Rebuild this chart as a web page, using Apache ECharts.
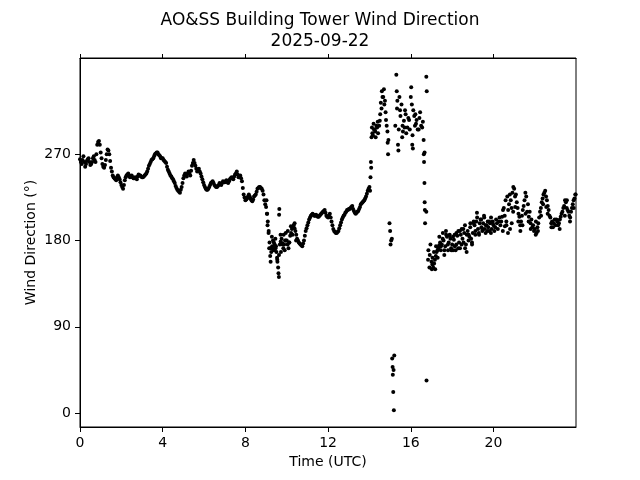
<!DOCTYPE html>
<html>
<head>
<meta charset="utf-8">
<script src="https://cdn.jsdelivr.net/npm/echarts@6/dist/echarts.min.js"></script>
<style>html,body{margin:0;padding:0;background:#fff}#c{width:640px;height:480px}</style>
</head>
<body>
<div id="c"></div>
<script>
// Wind direction (deg) sampled every 5 minutes (on the 5-minute marks), one row per hour (UTC)
const windMain = [
  265, 260, 268, 257, 263, 266, 259, 262, 268, 262, 280, 284, // 00
  272, 260, 256, 264, 275, 270, 256, 248, 245, 243, 248, 244, // 01
  238, 234, 243, 248, 250, 246, 248, 245, 246, 244, 249, 248, // 02
  246, 247, 249, 252, 258, 262, 265, 268, 271, 272, 269, 266, // 03
  266, 263, 261, 254, 250, 247, 244, 240, 235, 232, 230, 236, // 04
  245, 250, 247, 252, 248, 258, 264, 258, 252, 255, 250, 244, // 05
  238, 234, 233, 236, 240, 242, 238, 236, 237, 240, 238, 242, // 06
  241, 243, 240, 244, 246, 244, 249, 252, 246, 248, 242, 228, // 07
  222, 224, 228, 224, 221, 226, 228, 234, 236, 235, 232, 222, // 08
  215, 200, 178, 168, 180, 176, 168, 152, 176, 182, 172, 180, // 09
  180, 172, 185, 192, 196, 190, 182, 178, 176, 174, 180, 190, // 10
  196, 202, 206, 208, 206, 207, 205, 206, 208, 210, 212, 206, // 11
  204, 208, 200, 192, 189, 188, 190, 196, 202, 206, 209, 212, // 12
  213, 214, 216, 211, 208, 210, 213, 218, 220, 222, 226, 232, // 13
  236, 256, 290, 296, 300, 292, 305, 318, 330, 326, 300, 285, // 14
  190, 182, 45, 300, 318, 296, 310, 288, 305, 312, 298, 306,  // 15
  330, 290, 310, 302, 296, 308, 300, 304, 272, 210, 160, 165, // 16
  158, 152, 160, 168, 172, 178, 176, 180, 174, 184, 178, 182, // 17
  176, 181, 170, 185, 178, 186, 182, 188, 176, 190, 184, 182, // 18
  188, 196, 200, 192, 198, 194, 198, 192, 196, 194, 198, 192, // 19
  196, 194, 198, 200, 196, 205, 214, 222, 226, 218, 222, 230, // 20
  234, 228, 214, 205, 200, 212, 222, 226, 218, 210, 202, 196, // 21
  192, 188, 198, 210, 220, 228, 232, 222, 212, 204, 200, 198, // 22
  196, 200, 198, 205, 210, 216, 220, 212, 206, 210, 218, 224  // 23
];

// Wind direction (deg) at the 2.5-minute offsets between the marks above (null = see gust list)
const windMid = [
  262, 264, 262, 260, 265, 262, 260, 266, 264, 270, 283, 280, // 00
  266, 257, 259, 270, 274, 263, 252, 246, 244, 246, 246, 241, // 01
  236, 238, 246, 249, 248, 247, 246, 245, 245, 247, 248, 247, // 02
  246, 248, 250, 255, 260, 264, 266, 270, 272, 270, 268, 266, // 03
  264, 262, 257, 252, 248, 245, 242, 237, 233, 231, 233, 240, // 04
  248, 248, 250, 250, 253, 261, 261, 255, 254, 252, 247, 241, // 05
  236, 233, 234, 238, 241, 240, 237, 236, 238, 239, 240, 241, // 06
  242, 241, 242, 245, 245, 247, 250, 249, 247, 245, 235, 225, // 07
  223, 226, 226, 222, 223, 227, 231, 235, 236, 234, 228, 218, // 08
  208, 190, 172, 174, 178, 172, 160, 165, 179, 177, 176, 180, // 09
  176, 178, 188, 194, 193, 186, 180, 177, 175, 177, 185, 193, // 10
  199, 204, 207, 207, 206, 206, 205, 207, 209, 211, 209, 205, // 11
  206, 204, 196, 190, 188, 189, 193, 199, 204, 207, 210, 212, // 12
  213, 215, 213, 209, 209, 211, 215, 219, 221, 224, 229, 234, // 13
  null, null, null, null, null, null, null, null, null, null, null, null, // 14
  null, null, null, null, null, null, null, null, null, null, null, null, // 15
  null, null, null, null, null, null, null, null, null, null, null, null, // 16
  155, 156, 164, 170, 175, 174, 182, 170, 186, 176, 185, 170, // 17
  184, 174, 188, 172, 190, 176, 192, 172, 186, 180, 194, 178, // 18
  200, 190, 204, 188, 202, 192, 206, 196, 190, 200, 188, 200, // 19
  190, 202, 192, 204, 200, 212, 206, 196, 212, 228, 214, 236, // 20
  226, 220, 208, 196, 206, 216, 230, 210, 205, 198, 194, 190, // 21
  186, 194, 204, 214, 224, 230, 226, 216, 206, 198, 194, 202, // 22
  202, 196, 202, 208, 214, 222, 214, 210, 204, 214, 222, 228  // 23
];

// Additional scattered observations during gusty periods: hour (UTC) and direction (deg)
const extraHours = [
  9.02, 9.05, 9.07, 9.12, 9.15, 9.2, 9.22, 9.28, 9.3, 9.38, 9.45, 9.48, 9.53, 9.55, 9.6, 9.62, 9.63, 9.64,
  9.7, 9.72, 9.8, 9.85, 9.9, 9.95, 10.05, 10.12, 10.2, 10.28, 10.38, 10.45,
  14.03, 14.05, 14.07, 14.10, 14.12, 14.14, 14.20, 14.22, 14.28, 14.30, 14.37, 14.40, 14.47, 14.52, 14.55,
  14.60, 14.63, 14.70, 14.72, 14.78, 14.80, 14.87, 14.88, 14.90, 14.97, 15.02, 15.05, 15.10, 15.12, 15.13,
  15.15, 15.18, 15.20, 15.30, 15.32, 15.35, 15.38, 15.40, 15.45, 15.48, 15.55, 15.60, 15.62, 15.70, 15.72,
  15.78, 15.88, 15.95, 16.02, 16.05, 16.07, 16.10, 16.12, 16.20, 16.22, 16.28, 16.38, 16.45, 16.55, 16.62,
  16.63, 16.64, 16.66, 16.67, 16.68, 16.69, 16.75, 16.77, 16.76, 16.85, 16.90, 16.95, 17.02, 17.05, 17.10,
  17.12, 17.18, 17.22, 17.30, 17.38, 17.45, 17.55, 17.62, 17.70, 17.80, 17.88, 17.95,
  18.04, 18.12, 18.2, 18.3, 18.38, 18.46, 18.55, 18.62, 18.7, 18.8, 18.88, 18.96,
  19.04, 19.12, 19.2, 19.3, 19.4, 19.46, 19.55, 19.62, 19.72, 19.8, 19.88, 19.96,
  20.45, 20.55, 20.62, 20.7, 20.8, 20.88, 20.95,
  21.05, 21.2, 21.3, 21.4, 21.55, 21.7, 21.8,
  22.05, 22.15, 22.3, 22.4, 22.55, 22.62, 22.8,
  23.2, 23.45, 23.55, 23.7, 23.88, 23.97
];
const extraDirs = [
  222, 208, 196, 188, 172, 164, 158, 184, 172, 170, 182, 174, 162, 158, 146, 142, 207, 213,
  186, 168, 176, 186, 170, 188, 190, 178, 195, 186, 198, 180,
  232, 246, 262, 288, 298, 292, 302, 296, 294, 288, 298, 304, 300, 312, 324,
  336, 330, 338, 322, 314, 306, 294, 282, 270, 198, 176, 180, 57, 48, 40,
  22, 3, 60, 353, 336, 326, 280, 274, 330, 316, 322, 300, 294, 298, 316,
  292, 308, 296, 340, 322, 280, 276, 316, 300, 312, 306, 296, 314, 298, 285,
  270, 262, 240, 220, 212, 198, 351, 336, 34, 170, 152, 176, 150, 162, 156,
  168, 150, 174, 162, 184, 170, 188, 165, 190, 170, 186, 172,
  170, 186, 176, 190, 172, 192, 178, 196, 168, 186, 198, 176,
  198, 186, 209, 186, 202, 190, 204, 188, 200, 190, 204, 198,
  190, 195, 200, 188, 192, 198, 210,
  215, 200, 190, 196, 208, 200, 192,
  200, 190, 206, 218, 215, 208, 194,
  192, 206, 222, 200, 214, 228
];

const xTicks = [0, 4, 8, 12, 16, 20];
const yTicks = [0, 90, 180, 270];

const points = [];
windMain.forEach((v, i) => points.push([i / 12, v]));
windMid.forEach((v, i) => { if (v !== null) points.push([(i + 0.5) / 12, v]); });
extraHours.forEach((h, i) => points.push([h, extraDirs[i]]));

const font = 'DejaVu Sans';
const chart = echarts.init(document.getElementById('c'), null, {renderer: 'canvas'});
chart.setOption({
  animation: false,
  backgroundColor: '#fff',
  title: [
    {text: 'AO&SS Building Tower Wind Direction', left: 'center', top: 7,
     textStyle: {fontFamily: font, fontSize: 17, fontWeight: 'normal', color: '#000'}},
    {text: '2025-09-22', left: 'center', top: 28,
     textStyle: {fontFamily: font, fontSize: 17, fontWeight: 'normal', color: '#000'}}
  ],
  grid: {left: 80, right: 64, top: 58, bottom: 53, show: true, borderColor: '#000', borderWidth: 1, backgroundColor: 'transparent'},
  xAxis: [{
    type: 'value', min: 0, max: 23.99, position: 'bottom',
    name: 'Time (UTC)', nameLocation: 'middle', nameGap: 27,
    nameTextStyle: {fontFamily: font, fontSize: 14, color: '#000'},
    axisLine: {show: true, onZero: false, lineStyle: {color: '#000', width: 1}},
    axisTick: {show: true, length: 5, customValues: xTicks, lineStyle: {color: '#000', width: 1}},
    axisLabel: {customValues: xTicks, fontFamily: font, fontSize: 14, color: '#000', margin: 9},
    splitLine: {show: false}
  }, {
    type: 'value', min: 0, max: 23.99, position: 'top',
    axisLine: {show: true, onZero: false, lineStyle: {color: '#000', width: 1}},
    axisTick: {show: true, length: 4, customValues: xTicks, lineStyle: {color: '#000', width: 1}},
    axisLabel: {show: false},
    splitLine: {show: false}
  }],
  yAxis: {
    type: 'value', min: -14.6, max: 370.6,
    name: 'Wind Direction (°)', nameLocation: 'middle', nameGap: 42, nameRotate: 90,
    nameMoveOverlap: false,
    nameTextStyle: {fontFamily: font, fontSize: 14, color: '#000'},
    axisLine: {show: true, onZero: false, lineStyle: {color: '#000', width: 1}},
    axisTick: {show: true, length: 5, customValues: yTicks, lineStyle: {color: '#000', width: 1}},
    axisLabel: {customValues: yTicks, fontFamily: font, fontSize: 14, color: '#000', margin: 9},
    splitLine: {show: false}
  },
  series: [{
    type: 'scatter', xAxisIndex: 0, data: points, symbol: 'circle', symbolSize: 4,
    itemStyle: {color: '#000', opacity: 1}, silent: true
  }]
});
</script>
</body>
</html>
